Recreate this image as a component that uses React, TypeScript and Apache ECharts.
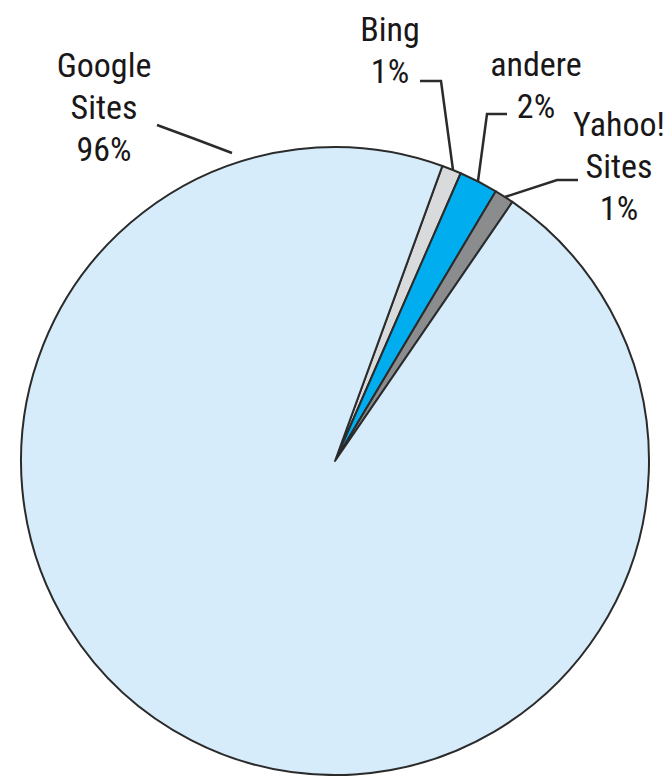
import React, { useEffect, useRef } from "react";
import * as echarts from "echarts";

const categories = ["Bing", "andere", "Yahoo!\nSites", "Google\nSites"];
const shares = [1, 2, 1, 96];
const sliceColors = ["#d9dadb", "#00aeef", "#8a8c8e", "#d6ecfa"];

// label layout (pixel positions of label centres and leader lines)
const labelCenters: number[][] = [
  [390, 50],
  [536, 85],
  [619, 166],
  [104, 107],
];
const leaderLines: number[][][] = [
  [[420, 81], [441, 81], [453, 170]],
  [[507, 114], [487, 114], [478, 181]],
  [[578, 180], [557, 180], [505, 197]],
  [[157, 125], [195, 139], [232, 153]],
];

export default function App() {
  const ref = useRef<HTMLDivElement>(null);
  useEffect(() => {
    if (!ref.current) return;
    const chart = echarts.init(ref.current, null, { renderer: "svg" });
    chart.setOption({
      animation: false,
      backgroundColor: "#ffffff",
      series: [
        {
          type: "pie",
          center: [335, 461],
          radius: 314,
          startAngle: 70,
          clockwise: true,
          silent: true,
          avoidLabelOverlap: false,
          data: categories.map((name, i) => ({
            name,
            value: shares[i],
            itemStyle: { color: sliceColors[i] },
          })),
          itemStyle: { borderColor: "#2b2b2b", borderWidth: 2 },
          label: {
            show: true,
            formatter: "{b}\n{c}%",
            fontFamily: "'Liberation Sans Narrow', 'Arial Narrow', 'Roboto Condensed', sans-serif",
            fontSize: 34,
            lineHeight: 42,
            color: "#1a1718",
            align: "center",
          },
          labelLine: {
            show: true,
            lineStyle: { color: "#2b2b2b", width: 2.5 },
          },
          labelLayout: (params: any) => {
            const i = params.dataIndex;
            return {
              x: labelCenters[i][0],
              y: labelCenters[i][1],
              align: "center",
              verticalAlign: "middle",
              labelLinePoints: leaderLines[i],
            };
          },
        },
      ],
    });
    return () => chart.dispose();
  }, []);
  return (
    <div
      ref={ref}
      style={{ position: "fixed", left: 0, top: 0, width: 669, height: 776 }}
    />
  );
}
